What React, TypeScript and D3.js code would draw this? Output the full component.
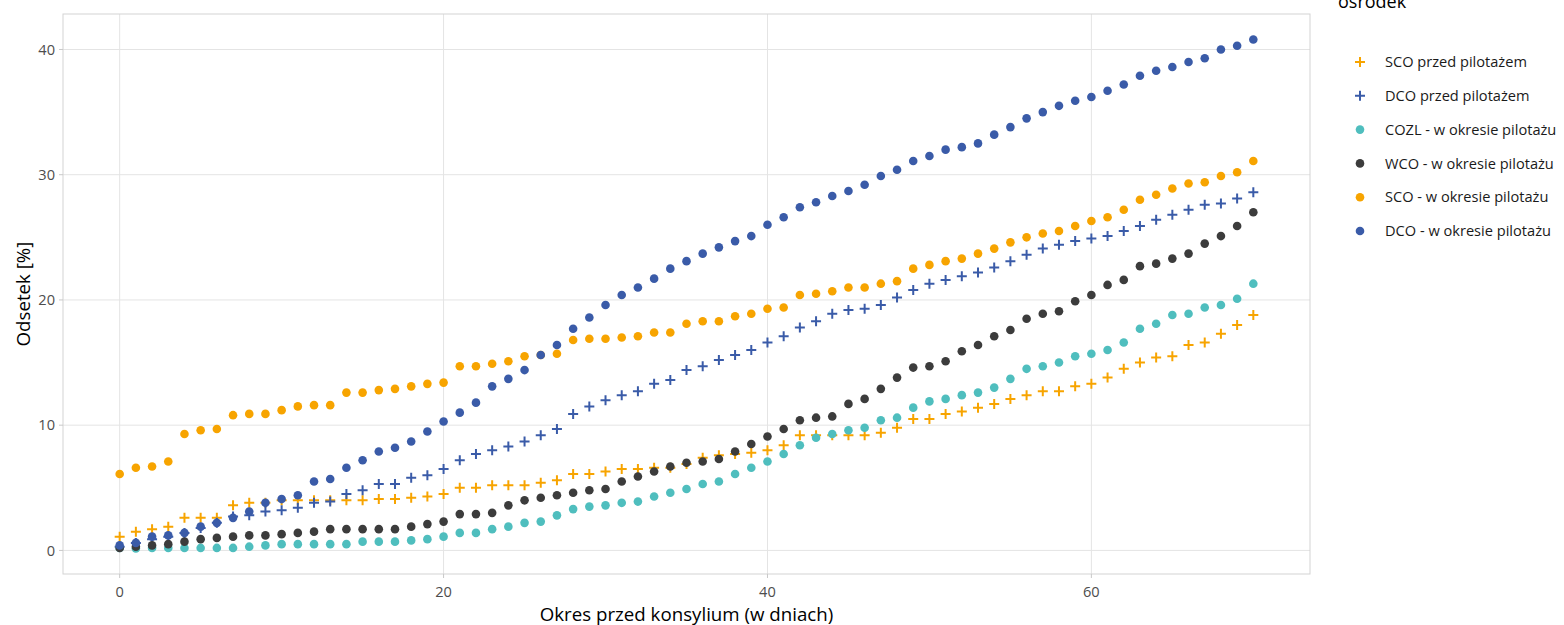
import React from "react";
import * as d3 from "d3";

// Day index i in each series array = "Okres przed konsylium" (days 0..70)
const sco_przed = [
  1.1, 1.5, 1.7, 1.9, 2.6, 2.6, 2.6, 3.6, 3.8, 3.8,
  4.0, 4.0, 4.0, 4.0, 4.0, 4.0, 4.1, 4.1, 4.2, 4.3,
  4.5, 5.0, 5.0, 5.2, 5.2, 5.2, 5.4, 5.6, 6.1, 6.1,
  6.3, 6.5, 6.5, 6.6, 6.6, 6.9, 7.4, 7.6, 7.7, 7.8,
  8.0, 8.4, 9.2, 9.2, 9.2, 9.2, 9.2, 9.4, 9.8, 10.5,
  10.5, 10.9, 11.1, 11.4, 11.7, 12.1, 12.4, 12.7, 12.7, 13.1,
  13.3, 13.8, 14.5, 15.0, 15.4, 15.5, 16.4, 16.6, 17.3, 18.0,
  18.8,
];
const dco_przed = [
  0.3, 0.6, 0.9, 1.1, 1.4, 1.8, 2.2, 2.7, 2.8, 3.1,
  3.2, 3.4, 3.8, 3.9, 4.5, 4.8, 5.3, 5.3, 5.8, 6.0,
  6.5, 7.2, 7.7, 8.0, 8.3, 8.7, 9.2, 9.7, 10.9, 11.5,
  12.0, 12.4, 12.7, 13.3, 13.6, 14.4, 14.7, 15.2, 15.6, 16.0,
  16.6, 17.1, 17.8, 18.3, 18.9, 19.2, 19.3, 19.6, 20.2, 20.8,
  21.3, 21.6, 21.9, 22.2, 22.6, 23.1, 23.6, 24.1, 24.4, 24.7,
  24.9, 25.1, 25.5, 25.9, 26.4, 26.8, 27.2, 27.6, 27.7, 28.1,
  28.6,
];
const cozl_w = [
  0.2, 0.15, 0.2, 0.2, 0.2, 0.2, 0.2, 0.2, 0.3, 0.4,
  0.5, 0.5, 0.5, 0.5, 0.5, 0.7, 0.7, 0.7, 0.8, 0.9,
  1.1, 1.4, 1.4, 1.7, 1.9, 2.2, 2.3, 2.8, 3.3, 3.5,
  3.6, 3.8, 3.9, 4.3, 4.6, 4.9, 5.3, 5.5, 6.1, 6.6,
  7.1, 7.7, 8.4, 9.0, 9.3, 9.6, 9.8, 10.4, 10.6, 11.4,
  11.9, 12.1, 12.4, 12.6, 13.0, 13.7, 14.5, 14.7, 15.0, 15.5,
  15.7, 16.0, 16.6, 17.7, 18.1, 18.8, 18.9, 19.4, 19.6, 20.1,
  21.3,
];
const wco_w = [
  0.2, 0.3, 0.4, 0.5, 0.7, 0.9, 1.0, 1.1, 1.2, 1.2,
  1.3, 1.4, 1.5, 1.7, 1.7, 1.7, 1.7, 1.7, 1.9, 2.1,
  2.3, 2.9, 2.9, 3.0, 3.6, 4.0, 4.2, 4.4, 4.6, 4.8,
  4.9, 5.5, 5.9, 6.3, 6.7, 7.0, 7.1, 7.3, 7.9, 8.5,
  9.1, 9.7, 10.4, 10.6, 10.7, 11.7, 12.1, 12.9, 13.8, 14.6,
  14.7, 15.1, 15.9, 16.4, 17.1, 17.6, 18.5, 18.9, 19.1, 19.9,
  20.4, 21.2, 21.6, 22.7, 22.9, 23.3, 23.7, 24.5, 25.1, 25.9,
  27.0,
];
const sco_w = [
  6.1, 6.6, 6.7, 7.1, 9.3, 9.6, 9.7, 10.8, 10.9, 10.9,
  11.2, 11.5, 11.6, 11.6, 12.6, 12.6, 12.8, 12.9, 13.1, 13.3,
  13.4, 14.7, 14.7, 14.9, 15.1, 15.5, 15.6, 15.7, 16.8, 16.9,
  16.9, 17.0, 17.1, 17.4, 17.4, 18.1, 18.3, 18.3, 18.7, 18.9,
  19.3, 19.4, 20.4, 20.5, 20.7, 21.0, 21.0, 21.3, 21.5, 22.5,
  22.8, 23.1, 23.3, 23.7, 24.1, 24.6, 25.0, 25.3, 25.5, 25.9,
  26.3, 26.6, 27.2, 28.0, 28.4, 28.9, 29.3, 29.4, 29.9, 30.2,
  31.1,
];
const dco_w = [
  0.4, 0.6, 1.1, 1.2, 1.4, 1.9, 2.2, 2.6, 3.1, 3.8,
  4.1, 4.4, 5.5, 5.7, 6.6, 7.2, 7.9, 8.2, 8.7, 9.5,
  10.3, 11.0, 11.8, 13.1, 13.7, 14.4, 15.6, 16.4, 17.7, 18.6,
  19.6, 20.4, 21.0, 21.7, 22.5, 23.1, 23.7, 24.2, 24.7, 25.1,
  26.0, 26.6, 27.4, 27.8, 28.3, 28.7, 29.2, 29.9, 30.4, 31.1,
  31.5, 32.0, 32.2, 32.5, 33.2, 33.8, 34.5, 35.0, 35.5, 35.9,
  36.2, 36.7, 37.2, 37.9, 38.3, 38.6, 39.0, 39.3, 40.0, 40.3,
  40.8,
];

const seriesNames = [
  "SCO przed pilotażem",
  "DCO przed pilotażem",
  "COZL - w okresie pilotażu",
  "WCO - w okresie pilotażu",
  "SCO - w okresie pilotażu",
  "DCO - w okresie pilotażu",
];
const seriesValues = [sco_przed, dco_przed, cozl_w, wco_w, sco_w, dco_w];
const seriesShapes = ["plus", "plus", "dot", "dot", "dot", "dot"];
const seriesColors = ["#F7A400", "#3A5BA8", "#4FBEBE", "#3C3C3C", "#F7A400", "#3A5BA8"];

const xTicks = [0, 20, 40, 60];
const yTicks = [0, 10, 20, 30, 40];

const legendTitle = "ośrodek";
const xTitle = "Okres przed konsylium (w dniach)";
const yTitle = "Odsetek [%]";

const W = 1564;
const H = 625;
const panel = { left: 63, right: 1310, top: 14, bottom: 574 };
const FONT = "'Open Sans', verdana, arial, sans-serif";

function Marker({ shape, color, x, y }: { shape: string; color: string; x: number; y: number }) {
  if (shape === "plus") {
    const s = 5;
    return (
      <path
        d={`M${x - s},${y}H${x + s}M${x},${y - s}V${y + s}`}
        stroke={color}
        strokeWidth={2}
        fill="none"
      />
    );
  }
  return <circle cx={x} cy={y} r={4.3} fill={color} />;
}

export default function App() {
  const days = sco_w.map((_, i) => i);
  const allVals = seriesValues.flat();
  const [ymin, ymax] = d3.extent(allVals) as [number, number];
  const [xmin, xmax] = d3.extent(days) as [number, number];
  const xpad = (xmax - xmin) * 0.05;
  const ypad = (ymax - ymin) * 0.05;

  const x = d3.scaleLinear().domain([xmin - xpad, xmax + xpad]).range([panel.left, panel.right]);
  const y = d3.scaleLinear().domain([ymin - ypad, ymax + ypad]).range([panel.bottom, panel.top]);

  const gridColor = "#e4e4e4";
  const legendX = 1360;
  const legendY0 = 62;
  const legendDy = 33.8;

  return (
    <svg
      width={W}
      height={H}
      style={{ position: "absolute", left: 0, top: 0, background: "#fff" }}
      fontFamily={FONT}
    >
      {yTicks.map((t) => (
        <line key={"gy" + t} x1={panel.left} x2={panel.right} y1={y(t)} y2={y(t)} stroke={gridColor} strokeWidth={1} />
      ))}
      {xTicks.map((t) => (
        <line key={"gx" + t} x1={x(t)} x2={x(t)} y1={panel.top} y2={panel.bottom} stroke={gridColor} strokeWidth={1} />
      ))}
      <rect
        x={panel.left}
        y={panel.top}
        width={panel.right - panel.left}
        height={panel.bottom - panel.top}
        fill="none"
        stroke="#d3d3d3"
        strokeWidth={1}
      />
      {yTicks.map((t) => (
        <g key={"ty" + t}>
          <line x1={panel.left - 4} x2={panel.left} y1={y(t)} y2={y(t)} stroke="#c8c8c8" />
          <text x={panel.left - 8} y={y(t)} dy="0.36em" textAnchor="end" fontSize={14.6} fill="#4d4d4d">
            {t}
          </text>
        </g>
      ))}
      {xTicks.map((t) => (
        <g key={"tx" + t}>
          <line x1={x(t)} x2={x(t)} y1={panel.bottom} y2={panel.bottom + 4} stroke="#c8c8c8" />
          <text x={x(t)} y={panel.bottom + 23} textAnchor="middle" fontSize={14.6} fill="#4d4d4d">
            {t}
          </text>
        </g>
      ))}
      <text x={(panel.left + panel.right) / 2} y={621} textAnchor="middle" fontSize={18.7} fill="#000">
        {xTitle}
      </text>
      <text
        transform={`translate(30,${(panel.top + panel.bottom) / 2}) rotate(-90)`}
        textAnchor="middle"
        fontSize={18.7}
        fill="#000"
      >
        {yTitle}
      </text>
      {seriesValues.map((vals, si) => (
        <g key={"s" + si}>
          {vals.map((v, i) => (
            <Marker key={i} shape={seriesShapes[si]} color={seriesColors[si]} x={x(days[i])} y={y(v)} />
          ))}
        </g>
      ))}
      <text x={1338} y={8} fontSize={18} fill="#000">
        {legendTitle}
      </text>
      {seriesNames.map((name, i) => (
        <g key={"l" + i}>
          <Marker shape={seriesShapes[i]} color={seriesColors[i]} x={legendX} y={legendY0 + i * legendDy} />
          <text x={1385} y={legendY0 + i * legendDy} dy="0.36em" fontSize={14.6} fill="#1a1a1a">
            {name}
          </text>
        </g>
      ))}
    </svg>
  );
}
